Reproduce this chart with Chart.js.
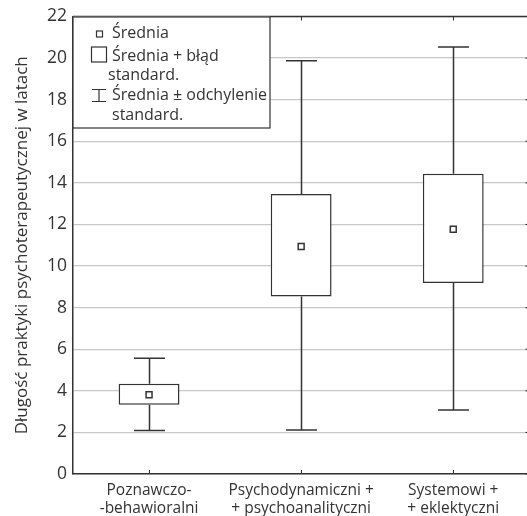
<!DOCTYPE html>
<html>
<head>
<meta charset="utf-8">
<script src="https://cdn.jsdelivr.net/npm/chart.js@4"></script>
<style>
  html, body { margin: 0; padding: 0; background: #fff; overflow: hidden; }
  #wrap { width: 535px; height: 516px; }
</style>
</head>
<body>
<div id="wrap"><canvas id="myChart"></canvas></div>
<script>
// data
const categories = [
	["Poznawczo-", "-behawioralni"],
	["Psychodynamiczni +", "+ psychoanalityczni"],
	["Systemowi +", "+ eklektyczni"]
];
const means = [3.81, 10.94, 11.77];
const seLow = [3.33, 8.54, 9.19];
const seHigh = [4.34, 13.46, 14.44];
const sdLow = [2.09, 2.12, 3.08];
const sdHigh = [5.57, 19.87, 20.53];
const yTicks = [0, 2, 4, 6, 8, 10, 12, 14, 16, 18, 20, 22];

const ink = "#333333";
const font = "'Open Sans', 'Noto Sans', sans-serif";

// whiskers, drawn under the boxes
const whiskers = {
	id: "whiskers",
	beforeDatasetsDraw(chart) {
		const ctx = chart.ctx;
		const x = chart.scales.x, y = chart.scales.y;
		const capHalf = 15.5;
		ctx.save();
		ctx.strokeStyle = ink;
		ctx.lineWidth = 1.5;
		for (let i = 0; i < categories.length; i++) {
			const px = Math.round(x.getPixelForValue(i)) + 0.5;
			const pairs = [[sdHigh[i], seHigh[i]], [sdLow[i], seLow[i]]];
			pairs.forEach(p => {
				const y1 = y.getPixelForValue(p[0]);
				const y2 = y.getPixelForValue(p[1]);
				ctx.beginPath();
				ctx.moveTo(px, y1);
				ctx.lineTo(px, y2);
				ctx.moveTo(px - capHalf, y1);
				ctx.lineTo(px + capHalf, y1);
				ctx.stroke();
			});
		}
		ctx.restore();
	}
};

// top line, inner ticks and the legend box
const frame = {
	id: "frame",
	afterDraw(chart) {
		const ctx = chart.ctx;
		const a = chart.chartArea;
		const x = chart.scales.x, y = chart.scales.y;
		ctx.save();
		ctx.strokeStyle = ink;
		ctx.lineWidth = 1.5;
		ctx.beginPath();
		ctx.moveTo(a.left, a.top);
		ctx.lineTo(a.right, a.top);
		ctx.stroke();
		ctx.lineWidth = 1;
		ctx.beginPath();
		yTicks.forEach(v => {
			const py = y.getPixelForValue(v);
			ctx.moveTo(a.right - 4, py);
			ctx.lineTo(a.right, py);
		});
		for (let i = 0; i < categories.length; i++) {
			const px = Math.round(x.getPixelForValue(i)) + 0.5;
			ctx.moveTo(px, a.top);
			ctx.lineTo(px, a.top + 4);
			ctx.moveTo(px, a.bottom);
			ctx.lineTo(px, a.bottom - 4);
		}
		ctx.stroke();

		// legend
		const L = a.left, T = a.top;
		ctx.fillStyle = "#fff";
		ctx.fillRect(L, T, 197, 111);
		ctx.lineWidth = 1.2;
		ctx.strokeRect(L, T + 0.5, 197, 111);
		ctx.strokeRect(L + 23.5, T + 14.5, 6, 6);
		ctx.strokeRect(L + 18.5, T + 30.5, 15, 15);
		ctx.beginPath();
		ctx.moveTo(L + 19, T + 73); ctx.lineTo(L + 33, T + 73);
		ctx.moveTo(L + 26, T + 73); ctx.lineTo(L + 26, T + 85);
		ctx.moveTo(L + 19, T + 85); ctx.lineTo(L + 33, T + 85);
		ctx.stroke();
		ctx.fillStyle = ink;
		ctx.font = "16px " + font;
		ctx.textBaseline = "middle";
		ctx.fillText("Średnia", L + 39, T + 17);
		ctx.fillText("Średnia + błąd", L + 39, T + 40);
		ctx.fillText("standard.", L + 35, T + 59);
		ctx.fillText("Średnia ± odchylenie", L + 39, T + 79);
		ctx.fillText("standard.", L + 39, T + 99);
		ctx.restore();
	}
};

const data = {
	labels: categories,
	datasets: [{
		type: "line",
		label: "Średnia",
		data: means,
		showLine: false,
		pointStyle: "rect",
		pointRadius: 4.2,
		pointBackgroundColor: "#fff",
		pointBorderColor: ink,
		pointBorderWidth: 1.5,
		order: 0
	}, {
		type: "bar",
		label: "Średnia + błąd standard.",
		data: seLow.map((v, i) => [v, seHigh[i]]),
		backgroundColor: "#fff",
		borderColor: ink,
		borderWidth: 1.5,
		borderSkipped: false,
		barPercentage: 0.4,
		categoryPercentage: 1,
		order: 1
	}]
};

const config = {
	type: "bar",
	data: data,
	options: {
		responsive: true,
		maintainAspectRatio: false,
		animation: false,
		layout: { padding: { top: 16, right: 0, left: 0, bottom: 0 } },
		plugins: { legend: { display: false }, tooltip: { enabled: false } },
		scales: {
			x: {
				offset: true,
				grid: { display: false },
				border: { color: ink, width: 1.5 },
				ticks: { color: ink, padding: 0, font: { family: font, size: 15.5, lineHeight: 1.15 }, maxRotation: 0, autoSkip: false },
				afterFit: s => { s.height = 42; }
			},
			y: {
				min: 0, max: 22,
				afterBuildTicks: s => { s.ticks = yTicks.map(v => ({ value: v })); },
				grid: { color: "#c8c8c8", lineWidth: 1.2, drawTicks: false },
				border: { color: ink, width: 1.5 },
				ticks: { color: ink, padding: 6, font: { family: font, size: 17.5 } },
				title: {
					display: true,
					text: "Długość praktyki psychoterapeutycznej w latach",
					color: ink,
					font: { family: font, size: 17 },
					padding: { top: 12, bottom: 0 }
				},
				afterFit: s => { s.width = 73; }
			}
		}
	},
	plugins: [whiskers, frame]
};

new Chart(document.getElementById("myChart").getContext("2d"), config);
</script>
</body>
</html>
